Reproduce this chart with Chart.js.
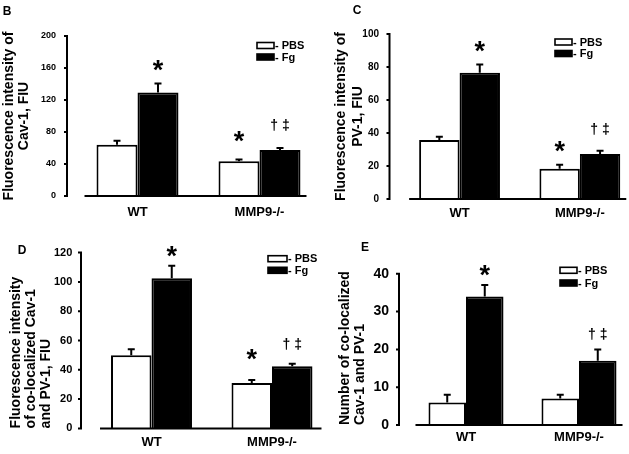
<!DOCTYPE html>
<html>
<head>
<meta charset="utf-8">
<script src="https://cdn.jsdelivr.net/npm/chart.js@4.4.1/dist/chart.umd.min.js"></script>
<style>
  html, body { margin: 0; padding: 0; background: #fff; width: 629px; height: 454px; overflow: hidden; }
  canvas { position: absolute; }
</style>
</head>
<body>
<canvas id="chartB"></canvas>
<canvas id="chartC"></canvas>
<canvas id="chartD"></canvas>
<canvas id="chartE"></canvas>
<script>
const groups = ['WT', 'MMP9-/-'];
const seriesNames = ['PBS', 'Fg'];

// B - Cav-1
const cav1Pbs = [64, 43.5];
const cav1PbsErr = [5, 2];
const cav1Fg = [129.5, 57.5];
const cav1FgErr = [11, 2.5];
// C - PV-1
const pv1Pbs = [35.7, 18.3];
const pv1PbsErr = [2, 2.4];
const pv1Fg = [76.5, 27.3];
const pv1FgErr = [5, 2];
// D - co-localized intensity
const coPbs = [50, 31];
const coPbsErr = [4, 2];
const coFg = [102.5, 42.5];
const coFgErr = [8.5, 1.7];
// E - number co-localized
const numPbs = [6, 7];
const numPbsErr = [2, 1];
const numFg = [34, 17];
const numFgErr = [3, 3];

const ticksB = [0, 40, 80, 120, 160, 200];
const ticksC = [0, 20, 40, 60, 80, 100];
const ticksD = [0, 20, 40, 60, 80, 100, 120];
const ticksE = [0, 10, 20, 30, 40];

// significance marks [group][series]
const marksB = [['', '*'], ['*', '† ‡']];
const marksC = [['', '*'], ['*', '† ‡']];
const marksD = [['', '*'], ['*', '† ‡']];
const marksE = [['', '*'], ['', '† ‡']];

const titleB = ['Fluorescence intensity of', 'Cav-1, FIU'];
const titleC = ['Fluorescence intensity of', 'PV-1, FIU'];
const titleD = ['Fluorescence intensity', 'of co-localized Cav-1', 'and PV-1, FIU'];
const titleE = ['Number of co-localized', 'Cav-1 and PV-1'];

const FONT = "'Liberation Sans', Arial, sans-serif";

// draws error bars, marks, offset axes, legend and panel letter
const decor = {
  id: 'decor',
  afterDatasetsDraw(chart, args, o) {
    const ctx = chart.ctx;
    const y = chart.scales.y;
    const area = chart.chartArea;
    ctx.save();
    ctx.strokeStyle = '#000';
    ctx.fillStyle = '#000';
    ctx.lineWidth = 2;

    chart.data.datasets.forEach((ds, di) => {
      chart.getDatasetMeta(di).data.forEach((bar, i) => {
        const top = y.getPixelForValue(ds.data[i] + ds.errors[i]);
        ctx.beginPath();
        ctx.moveTo(bar.x, bar.y);
        ctx.lineTo(bar.x, top);
        ctx.moveTo(bar.x - 3.5, top);
        ctx.lineTo(bar.x + 3.5, top);
        ctx.stroke();

        const m = o.marks[i][di];
        if (m) {
          ctx.font = m === '*' ? 'bold 27px ' + FONT : 'bold 14px ' + FONT;
          ctx.textAlign = 'center';
          ctx.textBaseline = 'alphabetic';
          const tm = ctx.measureText(m);
          const mid = (tm.actualBoundingBoxAscent - tm.actualBoundingBoxDescent) / 2;
          ctx.fillText(m, bar.x, top - o.lift[i][di] + mid);
        }
      });
    });

    // y axis line, offset left of the plot area
    const ax = area.left - o.yGap;
    ctx.beginPath();
    ctx.moveTo(ax, y.top - 1);
    ctx.lineTo(ax, y.bottom + 1);
    y.ticks.forEach(t => {
      const p = y.getPixelForValue(t.value);
      ctx.moveTo(ax - 3, p);
      ctx.lineTo(ax, p);
    });
    ctx.stroke();

    // x axis line spanning the bars
    const first = chart.getDatasetMeta(0).data[0];
    const lastArr = chart.getDatasetMeta(1).data;
    const last = lastArr[lastArr.length - 1];
    ctx.beginPath();
    ctx.moveTo(first.x - first.width / 2 - o.xExt[0], area.bottom);
    ctx.lineTo(last.x + last.width / 2 + o.xExt[1], area.bottom);
    ctx.stroke();

    // legend
    const lg = o.legend;
    ctx.font = 'bold 11px ' + FONT;
    ctx.textAlign = 'left';
    ctx.textBaseline = 'middle';
    chart.data.datasets.forEach((ds, di) => {
      const cy = lg.ys[di];
      ctx.fillStyle = ds.backgroundColor;
      ctx.fillRect(lg.x, cy - lg.h / 2, lg.w, lg.h);
      ctx.lineWidth = 1.6;
      ctx.strokeRect(lg.x, cy - lg.h / 2, lg.w, lg.h);
      ctx.fillStyle = '#000';
      ctx.fillText('- ' + ds.label, lg.x + lg.w + 1, cy + 0.5);
    });

    // panel letter
    ctx.font = 'bold 12px ' + FONT;
    ctx.textAlign = 'center';
    ctx.fillText(o.letter[0], o.letter[1], o.letter[2]);
    ctx.restore();
  }
};

function panel(id, p) {
  const [bl, bt, bw, bh] = p.box;
  const a = p.area;
  const cv = document.getElementById(id);
  cv.width = bw;
  cv.height = bh;
  cv.style.left = bl + 'px';
  cv.style.top = bt + 'px';

  return new Chart(cv, {
    type: 'bar',
    data: {
      labels: groups,
      datasets: [
        { label: seriesNames[0], data: p.pbs, errors: p.pbsErr, backgroundColor: '#fff', borderColor: '#000', borderWidth: 2 },
        { label: seriesNames[1], data: p.fg, errors: p.fgErr, backgroundColor: '#000', borderColor: '#000', borderWidth: 2 }
      ]
    },
    options: {
      responsive: false,
      animation: false,
      devicePixelRatio: 1,
      layout: { padding: { left: 0, top: a.t - bt, right: bl + bw - a.r, bottom: 0 } },
      datasets: { bar: { categoryPercentage: p.catPct, barPercentage: 1 } },
      scales: {
        x: {
          grid: { display: false, drawTicks: false },
          border: { display: false },
          ticks: { color: '#000', font: { family: FONT, weight: 'bold', size: 13 }, padding: p.xPad },
          afterFit: s => { s.height = bt + bh - a.b; }
        },
        y: {
          min: p.ticks[0],
          max: p.ticks[p.ticks.length - 1],
          grid: { display: false, drawTicks: false },
          border: { display: false },
          afterBuildTicks: s => { s.ticks = p.ticks.map(v => ({ value: v })); },
          ticks: { color: '#000', font: { family: FONT, weight: 'bold', size: p.tickSize }, padding: p.yPad },
          title: {
            display: true,
            text: p.title,
            align: p.titleAlign,
            color: '#000',
            font: { family: FONT, weight: 'bold', size: 14, lineHeight: p.titleLh + 'px' },
            padding: { top: p.titleX - bl - p.titleLh / 2, bottom: 0 }
          },
          afterFit: s => { s.width = a.l - bl; }
        }
      },
      plugins: {
        legend: { display: false },
        tooltip: { enabled: false },
        decor: {
          marks: p.marks,
          lift: p.lift,
          yGap: a.l - p.axisX,
          xExt: p.xExt,
          legend: { x: p.legend.x - bl, ys: p.legend.ys.map(v => v - bt), w: p.legend.w, h: p.legend.h },
          letter: [p.letter[0], p.letter[1] - bl, p.letter[2] - bt]
        }
      }
    },
    plugins: [decor]
  });
}

panel('chartB', {
  box: [0, 0, 324, 227],
  area: { l: 76.5, r: 320.5, t: 36, b: 196 },
  axisX: 67, xExt: [12, 6], catPct: 0.672,
  pbs: cav1Pbs, pbsErr: cav1PbsErr, fg: cav1Fg, fgErr: cav1FgErr,
  ticks: ticksB, tickSize: 9, yPad: 20.5, xPad: 8.2,
  title: titleB, titleAlign: 'center', titleLh: 15, titleX: 9.2,
  marks: marksB, lift: [[0, 18.6], [22.7, 23]],
  legend: { x: 257, ys: [45.5, 57], w: 17, h: 6 },
  letter: ['B', 7, 12]
});

panel('chartC', {
  box: [314, 0, 330, 227],
  area: { l: 399.4, r: 640, t: 34, b: 199 },
  axisX: 389.5, xExt: [10, 6], catPct: 0.672,
  pbs: pv1Pbs, pbsErr: pv1PbsErr, fg: pv1Fg, fgErr: pv1FgErr,
  ticks: ticksC, tickSize: 10, yPad: 20.4, xPad: 6.8,
  title: titleC, titleAlign: 'center', titleLh: 17, titleX: 340.7,
  marks: marksC, lift: [[0, 18], [18, 22]],
  legend: { x: 555, ys: [42, 53.5], w: 17, h: 6 },
  letter: ['C', 357, 11]
});

panel('chartD', {
  box: [0, 227, 336, 227],
  area: { l: 91.25, r: 332.25, t: 250, b: 429.3 },
  axisX: 81, xExt: [11, 9], catPct: 0.672,
  pbs: coPbs, pbsErr: coPbsErr, fg: coFg, fgErr: coFgErr,
  ticks: ticksD, tickSize: 11, yPad: 19, xPad: 6.7,
  title: titleD, titleAlign: 'start', titleLh: 15, titleX: 16,
  marks: marksD, lift: [[0, 14], [26, 19.6]],
  legend: { x: 268, ys: [258.7, 270.3], w: 19, h: 6 },
  letter: ['D', 22, 251]
});

panel('chartE', {
  box: [314, 227, 326, 227],
  area: { l: 409.5, r: 635.5, t: 273.7, b: 431.5 },
  axisX: 399, xExt: [13, 6], catPct: 0.664,
  pbs: numPbs, pbsErr: numPbsErr, fg: numFg, fgErr: numFgErr,
  ticks: ticksE, tickSize: 14, yPad: 20.5, xPad: 4.1,
  title: titleE, titleAlign: 'start', titleLh: 15, titleX: 345,
  marks: marksE, lift: [[0, 14.5], [0, 15]],
  legend: { x: 560, ys: [270.3, 283], w: 17, h: 6 },
  letter: ['E', 365, 248]
});
</script>
</body>
</html>
